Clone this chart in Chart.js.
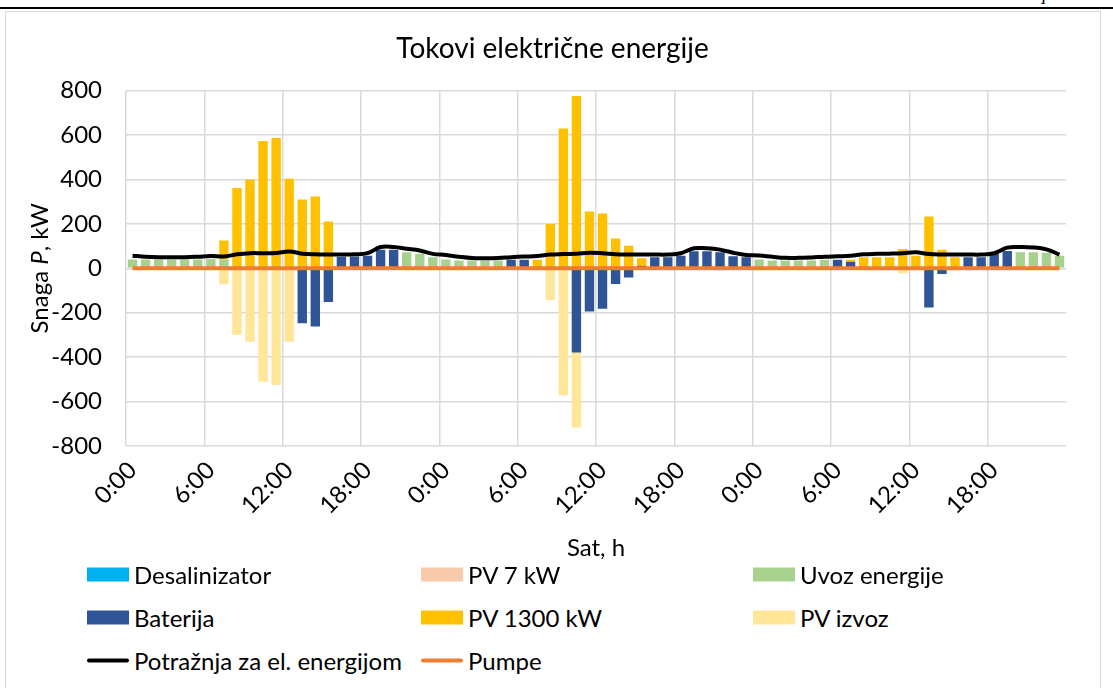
<!DOCTYPE html>
<html>
<head>
<meta charset="utf-8">
<script src="https://cdn.jsdelivr.net/npm/chart.js@4.4.1/dist/chart.umd.min.js"></script>
<style>
  body { margin: 0; background: #fff; width: 1113px; height: 688px; overflow: hidden; position: relative; font-family: Lato, sans-serif; }
  #topline { position: absolute; left: 0; top: 7px; width: 1113px; height: 2px; background: #000; }
  #pg { position: absolute; left: 1041px; top: -10px; font: italic 16px "Liberation Serif"; }
  #box { position: absolute; left: 5px; top: 11px; width: 1094px; height: 680px; border: 1px solid #d9d9d9; }
  #c { position: absolute; left: 0; top: 0; }
  .item { position: absolute; display: flex; align-items: center; font-size: 24px; color: #000; white-space: nowrap; transform: translateY(-50%); }
  .sw { width: 42px; height: 14px; margin-right: 5px; }
  .ln { width: 42px; height: 4px; border-radius: 2px; margin-right: 5px; }
</style>
</head>
<body>
<div id="topline"></div>
<div id="pg">I</div>
<div id="box">
  <canvas id="c" width="1093" height="555"></canvas>
  <div id="legend"></div>
</div>
<script>
// x categories: 3 days, hourly
const hours = [];
for (let d = 0; d < 3; d++) for (let h = 0; h < 24; h++) hours.push(h + ':00');

const yTicks = [-800, -600, -400, -200, 0, 200, 400, 600, 800];

// kW
const desalinizator = [
  0,0,0,0,0,0,0,0, 0,0,0,0,0,0,0,0, 0,0,0,0,0,0,0,0,
  0,0,0,0,0,0,0,0, 0,0,0,0,0,0,0,0, 0,0,0,0,0,0,0,0,
  0,0,0,0,0,0,0,0, 0,0,0,0,0,0,0,0, 0,0,0,0,0,0,0,0
];
const pv7 = [
  0,0,0,0,0,0,0,0, 0,0,0,0,0,0,0,0, 0,0,0,0,0,0,0,0,
  0,0,0,0,0,0,0,0, 0,0,0,0,0,0,0,0, 0,0,0,0,0,0,0,0,
  0,0,0,0,0,0,0,0, 0,0,0,0,0,0,0,0, 0,0,0,0,0,0,0,0
];
const uvoz = [
  40,40,40,40,40,40,42,40, 0,0,0,0,0,0,0,0, 0,0,0,0,0,72,65,50,
  40,35,35,35,35,0,0,0, 0,0,0,0,0,0,0,0, 0,0,0,0,0,0,0,0,
  40,35,35,35,35,39,0,0, 0,0,0,0,0,0,0,0, 0,0,0,0,72,72,70,57
];
const baterija = [
  0,0,0,0,0,0,0,0, 0,0,0,0,0,-247,-262,-152, 52,53,57,83,83,0,0,0,
  0,0,0,0,0,39,39,0, 0,0,-379,-194,-182,-71,-41,12, 50,50,57,77,77,72,54,50,
  0,0,0,0,0,0,39,30, 0,0,0,0,0,-176,-26,0, 50,50,70,78,0,0,0,0
];
const pv1300 = [
  0,0,0,0,0,0,0,85, 361,399,573,587,403,310,323,211, 0,0,0,0,0,0,0,0,
  0,0,0,0,0,0,0,39, 200,629,776,256,247,134,102,33, 0,0,0,0,0,0,0,0,
  0,0,0,0,0,0,0,8, 50,50,50,87,57,233,83,50, 0,0,0,0,0,0,0,0
];
const pvIzvoz = [
  0,0,0,0,0,0,0,-72, -299,-331,-511,-525,-331,0,0,0, 0,0,0,0,0,0,0,0,
  0,0,0,0,0,0,0,0, -143,-571,-338,0,0,0,0,0, 0,0,0,0,0,0,0,0,
  0,0,0,0,0,0,0,0, 0,0,0,-22,0,0,0,0, 0,0,0,0,0,0,0,0
];
const potraznja = [
  57,52,50,50,50,52,55,53, 63,68,68,69,76,66,63,62, 62,63,68,96,96,88,80,65,
  60,52,46,45,46,50,53,55, 62,64,65,70,68,63,62,62, 62,62,68,90,90,84,70,60,
  58,52,47,47,49,52,54,56, 63,65,66,68,72,64,62,62, 62,62,68,93,96,94,85,62
];
const pumpe = [
  0,0,0,0,0,0,0,0, 0,0,0,0,0,0,0,0, 0,0,0,0,0,0,0,0,
  0,0,0,0,0,0,0,0, 0,0,0,0,0,0,0,0, 0,0,0,0,0,0,0,0,
  0,0,0,0,0,0,0,0, 0,0,0,0,0,0,0,0, 0,0,0,0,0,0,0,0
];

const FONT = 'Lato';
const GRID = '#d9d9d9';

function bar(label, data, color) {
  return { type: 'bar', label: label, data: data, backgroundColor: color, order: 1,
           barPercentage: 0.72, categoryPercentage: 1 };
}
function line(label, data, color, width, stack) {
  return { type: 'line', label: label, data: data, borderColor: color, backgroundColor: color,
           borderWidth: width, pointRadius: 0, tension: 0.4, order: 0, stack: stack };
}

// y axis title with italic P
const yTitle = {
  id: 'yTitle',
  afterDraw(chart) {
    const ctx = chart.ctx;
    const a = chart.chartArea;
    const parts = [['Snaga ', ''], ['P', 'italic '], [', kW', '']];
    ctx.save();
    ctx.translate(34, (a.top + a.bottom) / 2);
    ctx.rotate(-Math.PI / 2);
    ctx.textBaseline = 'middle';
    ctx.fillStyle = '#000';
    let total = 0;
    parts.forEach(p => { ctx.font = p[1] + '24px ' + FONT; total += ctx.measureText(p[0]).width; });
    let x = -total / 2;
    parts.forEach(p => {
      ctx.font = p[1] + '24px ' + FONT;
      ctx.fillText(p[0], x, 0);
      x += ctx.measureText(p[0]).width;
    });
    ctx.restore();
  }
};

const chart = new Chart(document.getElementById('c'), {
  data: {
    labels: hours,
    datasets: [
      bar('Desalinizator', desalinizator, '#00B0F0'),
      bar('PV 7 kW', pv7, '#F8CBAD'),
      bar('Uvoz energije', uvoz, '#A9D18E'),
      bar('Baterija', baterija, '#2F5597'),
      bar('PV 1300 kW', pv1300, '#FFC000'),
      bar('PV izvoz', pvIzvoz, '#FFE699'),
      line('Potražnja za el. energijom', potraznja, '#000000', 4, 'l1'),
      line('Pumpe', pumpe, '#ED7D31', 4, 'l2')
    ]
  },
  options: {
    responsive: false,
    animation: false,
    devicePixelRatio: 1,
    layout: { padding: 0 },
    plugins: {
      legend: { display: false },
      tooltip: { enabled: false },
      title: {
        display: true,
        text: 'Tokovi električne energije',
        color: '#000',
        font: { family: FONT, size: 28, weight: 'normal' },
        padding: { top: 20, bottom: 25 }
      }
    },
    scales: {
      x: {
        stacked: true,
        grid: {
          offset: true,
          drawTicks: false,
          lineWidth: 1.5,
          color: c => (c.index % 6 === 0 ? GRID : 'rgba(0,0,0,0)')
        },
        border: { display: false },
        ticks: {
          autoSkip: false,
          minRotation: 45,
          maxRotation: 45,
          padding: 10,
          color: '#000',
          font: { family: FONT, size: 24 },
          callback: (v, i) => (i % 6 === 0 ? hours[i] : '')
        },
        title: {
          display: true,
          text: 'Sat, h',
          color: '#000',
          font: { family: FONT, size: 24 },
          padding: { top: 4, bottom: 4 }
        },
        afterFit: s => { s.height = 121; }
      },
      y: {
        stacked: true,
        min: -800,
        max: 800,
        afterBuildTicks: s => { s.ticks = yTicks.map(v => ({ value: v })); },
        grid: { color: GRID, lineWidth: 1.5, drawTicks: false },
        border: { display: false },
        ticks: {
          padding: 24,
          color: '#000',
          font: { family: FONT, size: 24 }
        },
        afterFit: s => { s.width = 120; }
      },
      // empty right margin so the title stays centred on the whole canvas
      yRight: {
        type: 'linear',
        position: 'right',
        grid: { display: false },
        border: { display: false },
        ticks: { display: false },
        afterFit: s => { s.width = 33; }
      }
    }
  },
  plugins: [yTitle]
});

// legend in three columns, built from the datasets
const cols = [81, 415, 747];
const rows = [562, 605, 648];
const legend = document.getElementById('legend');
chart.data.datasets.forEach((ds, i) => {
  const it = document.createElement('div');
  it.className = 'item';
  it.style.left = cols[i % 3] + 'px';
  it.style.top = rows[Math.floor(i / 3)] + 'px';
  const sw = document.createElement('div');
  sw.className = ds.type === 'line' ? 'ln' : 'sw';
  sw.style.background = ds.type === 'line' ? ds.borderColor : ds.backgroundColor;
  it.appendChild(sw);
  it.appendChild(document.createTextNode(ds.label));
  legend.appendChild(it);
});
</script>
</body>
</html>
